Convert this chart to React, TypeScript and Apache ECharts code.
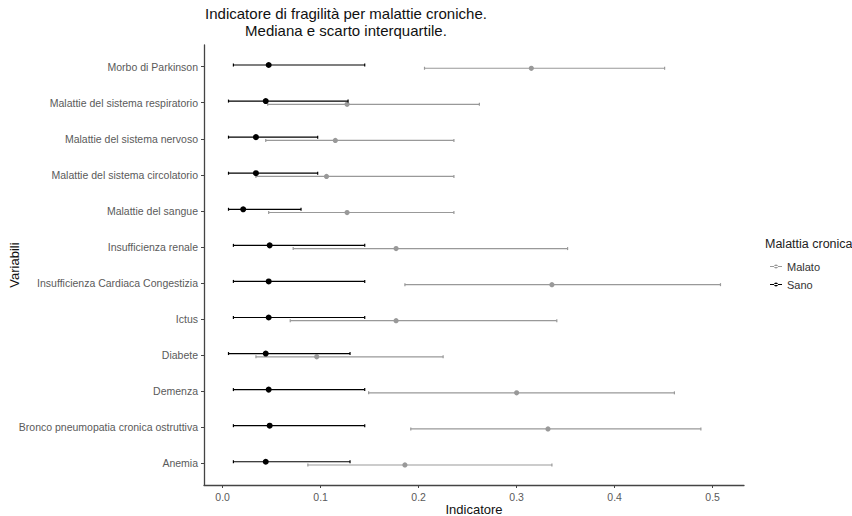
import React, { useEffect, useRef } from "react";
import * as echarts from "echarts";

// Categories listed bottom to top (as on the y axis)
const categories = [
  "Anemia",
  "Bronco pneumopatia cronica ostruttiva",
  "Demenza",
  "Diabete",
  "Ictus",
  "Insufficienza Cardiaca Congestizia",
  "Insufficienza renale",
  "Malattie del sangue",
  "Malattie del sistema circolatorio",
  "Malattie del sistema nervoso",
  "Malattie del sistema respiratorio",
  "Morbo di Parkinson",
];

const sanoLow = [0.011, 0.011, 0.011, 0.006, 0.011, 0.011, 0.011, 0.006, 0.006, 0.006, 0.006, 0.011];
const sanoMedian = [0.044, 0.048, 0.047, 0.044, 0.047, 0.047, 0.048, 0.021, 0.034, 0.034, 0.044, 0.047];
const sanoHigh = [0.13, 0.145, 0.145, 0.13, 0.145, 0.145, 0.145, 0.08, 0.097, 0.097, 0.128, 0.145];

const malatoLow = [0.087, 0.192, 0.149, 0.034, 0.069, 0.186, 0.072, 0.047, 0.034, 0.044, 0.046, 0.206];
const malatoMedian = [0.186, 0.332, 0.3, 0.096, 0.177, 0.336, 0.177, 0.127, 0.106, 0.115, 0.127, 0.315];
const malatoHigh = [0.336, 0.488, 0.461, 0.225, 0.341, 0.508, 0.352, 0.236, 0.236, 0.236, 0.262, 0.451];

const xTicks = [0, 0.1, 0.2, 0.3, 0.4, 0.5];

const FONT = "'Liberation Sans', Arial, sans-serif";
const DODGE = 0.045;

function makeSeries(
  name: string,
  low: number[],
  med: number[],
  high: number[],
  color: string,
  offset: number,
  radius: number,
  lineWidth: number
) {
  const data = categories.map((_, i) => [i, low[i], med[i], high[i]]);
  return {
    name,
    type: "custom",
    itemStyle: { color },
    encode: { x: [1, 2, 3], y: 0 },
    data,
    renderItem: (params: any, api: any) => {
      const y = api.value(0) + offset;
      const lo = api.coord([api.value(1), y]);
      const mid = api.coord([api.value(2), y]);
      const hi = api.coord([api.value(3), y]);
      const st = { stroke: color, lineWidth };
      return {
        type: "group",
        children: [
          { type: "line", shape: { x1: lo[0], y1: lo[1], x2: hi[0], y2: hi[1] }, style: st },
          { type: "line", shape: { x1: lo[0], y1: lo[1] - 1.5, x2: lo[0], y2: lo[1] + 1.5 }, style: st },
          { type: "line", shape: { x1: hi[0], y1: hi[1] - 1.5, x2: hi[0], y2: hi[1] + 1.5 }, style: st },
          { type: "circle", shape: { cx: mid[0], cy: mid[1], r: radius }, style: { fill: color } },
        ],
      };
    },
  };
}

export default function App() {
  const ref = useRef<HTMLDivElement>(null);
  useEffect(() => {
    if (!ref.current) return;
    const chart = echarts.init(ref.current, null, { renderer: "svg" });
    const legendIcon =
      "path://M0,2.5 L12,2.5 L12,3.5 L0,3.5 Z M4,3 A2,2 0 1 0 8,3 A2,2 0 1 0 4,3 Z";
    chart.setOption({
      animation: false,
      backgroundColor: "#ffffff",
      title: [
        {
          text: "Indicatore di fragilità per malattie croniche.\nMediana e scarto interquartile.",
          left: 341,
          top: 0,
          textAlign: "center",
          textStyle: {
            fontFamily: FONT,
            fontSize: 15,
            fontWeight: "normal",
            color: "#111",
            lineHeight: 17,
            align: "center",
          },
        },
        {
          text: "Malattia cronica",
          left: 760,
          top: 232,
          textStyle: { fontFamily: FONT, fontSize: 12.5, fontWeight: "normal", color: "#222" },
        },
      ],
      legend: {
        orient: "vertical",
        left: 765,
        top: 256,
        itemWidth: 12,
        itemHeight: 5,
        itemGap: 7,
        data: [
          { name: "Malato", icon: legendIcon },
          { name: "Sano", icon: legendIcon },
        ],
        textStyle: { fontFamily: FONT, fontSize: 11, color: "#333" },
      },
      grid: { left: 204, right: 108, top: 45, bottom: 31, containLabel: false, outerBoundsMode: "none" },
      xAxis: {
        type: "value",
        min: -0.019,
        max: 0.532,
        name: "Indicatore",
        nameLocation: "middle",
        nameGap: 18,
        nameMoveOverlap: false,
        nameTextStyle: { fontFamily: FONT, fontSize: 13, color: "#111" },
        axisLine: { show: true, onZero: false, lineStyle: { color: "#444", width: 1.3 } },
        axisTick: { show: true, length: 3, lineStyle: { color: "#444" }, customValues: xTicks },
        axisLabel: {
          fontFamily: FONT,
          fontSize: 10.5,
          color: "#5a5a5a",
          margin: 6,
          customValues: xTicks,
          formatter: (v: number) => v.toFixed(1),
        },
        splitLine: { show: false },
      },
      yAxis: {
        type: "value",
        min: -0.6,
        max: categories.length - 1 + 0.6,
        name: "Variabili",
        nameLocation: "middle",
        nameGap: 183,
        nameMoveOverlap: false,
        nameTextStyle: { fontFamily: FONT, fontSize: 13, color: "#111" },
        axisLine: { show: true, onZero: false, lineStyle: { color: "#444", width: 1.3 } },
        axisTick: { show: true, length: 3, lineStyle: { color: "#444" }, customValues: categories.map((_, i) => i) },
        axisLabel: {
          fontFamily: FONT,
          fontSize: 10.5,
          color: "#5a5a5a",
          margin: 6,
          customValues: categories.map((_, i) => i),
          formatter: (v: number) => categories[Math.round(v)] ?? "",
        },
        splitLine: { show: false },
      },
      series: [
        makeSeries("Malato", malatoLow, malatoMedian, malatoHigh, "#999999", -DODGE, 2.6, 1.2),
        makeSeries("Sano", sanoLow, sanoMedian, sanoHigh, "#000000", DODGE, 3, 1.2),
      ],
    });
    return () => chart.dispose();
  }, []);
  return (
    <div
      ref={ref}
      style={{ position: "fixed", left: 0, top: 0, width: 852, height: 516, background: "#fff" }}
    />
  );
}
